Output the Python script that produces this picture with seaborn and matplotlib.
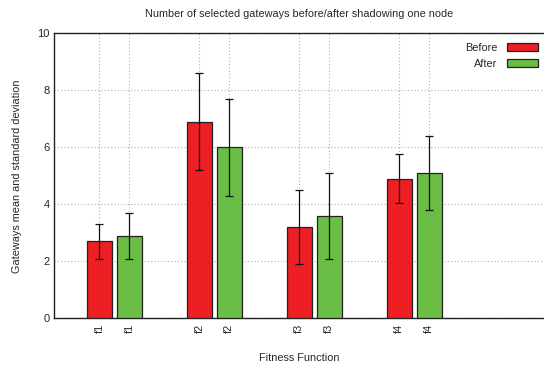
import matplotlib
matplotlib.use("Agg")
import matplotlib.pyplot as plt
import seaborn as sns
import pandas as pd
from matplotlib.patches import Patch

functions = ["f1", "f2", "f3", "f4"]
series = ["Before", "After"]
before_mean = [2.7, 6.9, 3.2, 4.9]
before_sd = [0.6, 1.7, 1.3, 0.85]
after_mean = [2.9, 6.0, 3.6, 5.1]
after_sd = [0.8, 1.7, 1.5, 1.3]
y_ticks = [0, 2, 4, 6, 8, 10]

colors = {"Before": "#ed1f24", "After": "#6abd45"}

df = pd.DataFrame({
    "func": functions * 2,
    "series": ["Before"] * 4 + ["After"] * 4,
    "mean": before_mean + after_mean,
    "sd": before_sd + after_sd,
})

sns.set_style("white")
plt.rcParams["font.family"] = ["Liberation Sans", "DejaVu Sans"]

fig = plt.figure(figsize=(5.44, 3.69), dpi=100)
ax = fig.add_axes([0.0993, 0.137, 0.9007, 0.773])

sns.barplot(data=df, x="func", y="mean", hue="series", hue_order=series,
            order=functions, palette=colors, saturation=1, width=0.6, gap=1/6,
            errorbar=None, edgecolor="#222222", linewidth=0.9, ax=ax,
            legend=False, zorder=3)

offsets = {"Before": -0.15, "After": 0.15}
tick_pos, tick_lab = [], []
for s in series:
    sub = df[df.series == s]
    xs = [functions.index(f) + offsets[s] for f in sub.func]
    ax.errorbar(xs, sub["mean"], yerr=sub["sd"], fmt="none", ecolor="#111111",
                elinewidth=0.9, capsize=3, capthick=0.9, zorder=4)
    tick_pos += xs
    tick_lab += list(sub.func)

order_idx = sorted(range(len(tick_pos)), key=lambda i: tick_pos[i])
ax.set_xticks([tick_pos[i] for i in order_idx])
ax.set_xticklabels([tick_lab[i] for i in order_idx], rotation=90, fontsize=7.8)
ax.set_yticks(y_ticks)
ax.set_yticklabels([str(t) for t in y_ticks], fontsize=8)
ax.set_ylim(0, 10)
ax.set_xlim(-0.603, 4.297)

ax.grid(True, axis="both", color="#b0b0b0", linestyle=(0, (1, 2)), linewidth=0.8, zorder=0)
ax.set_axisbelow(True)
ax.tick_params(axis="both", direction="in", length=3, width=0.8, pad=3)
ax.tick_params(axis="x", length=0, pad=4)

for sp in ["left", "top", "bottom"]:
    ax.spines[sp].set_color("#222222")
    ax.spines[sp].set_linewidth(1.0)
ax.spines["right"].set_visible(False)

ax.set_title("Number of selected gateways before/after shadowing one node",
             fontsize=7.8, pad=12)
ax.set_ylabel("Gateways mean and standard deviation", fontsize=7.8, labelpad=11)
ax.set_xlabel("Fitness Function", fontsize=7.8, labelpad=14)

handles = [Patch(facecolor=colors[s], edgecolor="#222222", linewidth=0.9, label=s) for s in series]
leg = ax.legend(handles=handles, loc="upper right", bbox_to_anchor=(1.002, 0.99),
                frameon=False, markerfirst=False, fontsize=7.8,
                handlelength=2.9, handleheight=0.8, handletextpad=0.9,
                labelspacing=0.55, borderaxespad=0.2)

fig.savefig("out.png", dpi=100)
